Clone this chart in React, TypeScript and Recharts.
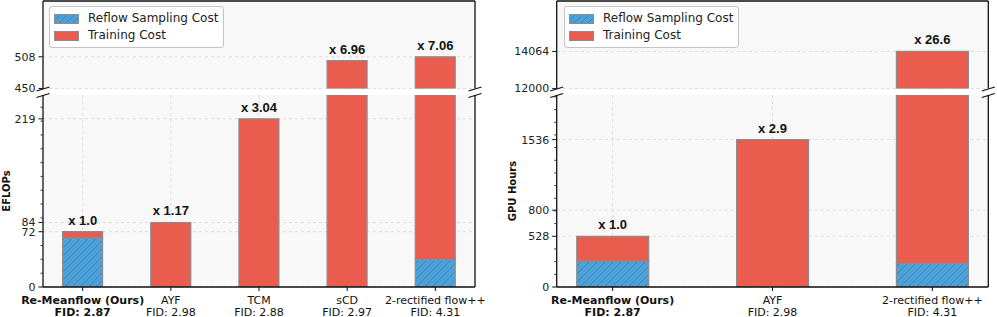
import React from 'react';
import { BarChart, Bar, XAxis, YAxis, CartesianGrid, ReferenceLine, ReferenceDot, Legend } from 'recharts';

// left panel: compute (EFLOPs)
const flopsMethods = ['Re-Meanflow (Ours)', 'AYF', 'TCM', 'sCD', '2-rectified flow++'];
const flopsFid = ['FID: 2.87', 'FID: 2.98', 'FID: 2.88', 'FID: 2.97', 'FID: 4.31'];
const flopsReflow = [64, 0, 0, 0, 36];
const flopsTraining = [8, 84, 219, 501, 472];
const flopsRatio = ['x 1.0', 'x 1.17', 'x 3.04', 'x 6.96', 'x 7.06'];
const flopsLowTicks = [0, 72, 84, 219];
const flopsLowMinor = [18, 36, 54, 90, 108, 126, 144, 162, 180, 198, 216, 234];
const flopsHighTicks = [450, 508];
const flopsLowDomain = [0, 250];
const flopsHighDomain = [450, 610];

// right panel: GPU hours
const gpuMethods = ['Re-Meanflow (Ours)', 'AYF', '2-rectified flow++'];
const gpuFid = ['FID: 2.87', 'FID: 2.98', 'FID: 4.31'];
const gpuReflow = [270, 0, 245];
const gpuTraining = [258, 1536, 13819];
const gpuRatio = ['x 1.0', 'x 2.9', 'x 26.6'];
const gpuLowTicks = [0, 528, 800, 1536];
const gpuLowMinor = [132, 264, 396, 660, 792, 924, 1056, 1188, 1320, 1452, 1584, 1716, 1848, 1980];
const gpuHighTicks = [12000, 14064];
const gpuLowDomain = [0, 2000];
const gpuHighDomain = [12000, 16877];

const RED = '#e95c4e';
const BLUE = '#48a2de';
const EDGE = '#8c8c8c';
const BG = '#f8f8f8';
const FONT = '"DejaVu Sans", sans-serif';

const YTick = (props: any) => {
  const { x, y, payload, majors } = props;
  const v = payload.value;
  const major = majors.includes(v);
  return (
    <g>
      <line x1={x} x2={x - (major ? 4.5 : 2.5)} y1={y} y2={y} stroke="#222" strokeWidth={major ? 1.1 : 0.9} />
      {major && (
        <text x={x - 7.5} y={y} dy="0.36em" textAnchor="end" fontFamily={FONT} fontSize={11} fill="#222">
          {v}
        </text>
      )}
    </g>
  );
};

const XTick = (props: any) => {
  const { x, y, payload, rows } = props;
  const d = rows[payload.value];
  if (!d) return null;
  const bold = payload.value === 0;
  return (
    <text textAnchor="middle" fontFamily={FONT} fontSize={11} fontWeight={bold ? 'bold' : 'normal'} fill="#111">
      <tspan x={x} y={y + 10.5}>{d.name}</tspan>
      <tspan x={x} y={y + 22.5}>{d.fid}</tspan>
    </text>
  );
};

const LegendBox = ({ id }: { id: string }) => (
  <div
    style={{
      background: '#fff',
      border: '1px solid #c4c4c4',
      borderRadius: 3,
      padding: '3px 5px 3px 4px',
      fontFamily: FONT,
      fontSize: 12,
      lineHeight: '17px',
      color: '#222',
      whiteSpace: 'nowrap',
    }}
  >
    <div style={{ display: 'flex', alignItems: 'center' }}>
      <svg width={25} height={10} style={{ display: 'block' }}>
        <defs>
          <pattern id={`lg-${id}`} patternUnits="userSpaceOnUse" width={7} height={7}>
            <rect width={7} height={7} fill={BLUE} />
            <path d="M-1,1 l2,-2 M0,7 l7,-7 M6,8 l2,-2" stroke="#5f7585" strokeWidth={0.8} />
          </pattern>
        </defs>
        <rect x={0.5} y={0.5} width={24} height={9} fill={`url(#lg-${id})`} stroke={EDGE} />
      </svg>
      <span style={{ marginLeft: 9 }}>Reflow Sampling Cost</span>
    </div>
    <div style={{ display: 'flex', alignItems: 'center' }}>
      <svg width={25} height={10} style={{ display: 'block' }}>
        <rect x={0.5} y={0.5} width={24} height={9} fill={RED} stroke={EDGE} />
      </svg>
      <span style={{ marginLeft: 9 }}>Training Cost</span>
    </div>
  </div>
);

type PanelProps = {
  id: string;
  left: number;
  yLabel: string;
  labelX: number;
  yw: number;
  mr: number;
  xDomain: number[];
  barSize: number;
  legendLeft: number;
  methods: string[];
  fid: string[];
  reflow: number[];
  training: number[];
  ratio: string[];
  lowTicks: number[];
  lowMinor: number[];
  highTicks: number[];
  lowDomain: number[];
  highDomain: number[];
};

const Panel = (p: PanelProps) => {
  const rows = p.methods.map((name, i) => ({
    x: i,
    name,
    fid: p.fid[i],
    reflow: p.reflow[i],
    training: p.training[i],
    ratio: p.ratio[i],
    total: p.reflow[i] + p.training[i],
  }));
  const xs = rows.map((r) => r.x);
  const W = 497;

  const bars = [
    <Bar key="r" dataKey="reflow" name="Reflow Sampling Cost" stackId="a" fill={`url(#hatch-${p.id})`} stroke={EDGE} strokeWidth={1.2} barSize={p.barSize} isAnimationActive={false} />,
    <Bar key="t" dataKey="training" name="Training Cost" stackId="a" fill={RED} stroke={EDGE} strokeWidth={1.2} barSize={p.barSize} isAnimationActive={false} />,
  ];

  // ratio above each bar top; dots outside the section's domain are discarded
  const ratioDots = rows.map((r) => (
    <ReferenceDot
      key={`dot-${r.x}`}
      x={r.x}
      y={r.total}
      r={0}
      fill="none"
      stroke="none"
      ifOverflow="discard"
      label={(lp: any) => {
        const vb = lp.viewBox || {};
        return (
          <text x={vb.x + (vb.width || 0) / 2} y={vb.y - 7} textAnchor="middle" fontFamily='"Liberation Sans", Arial, sans-serif' fontWeight="bold" fontSize={13} fill="#111">
            {r.ratio}
          </text>
        );
      }}
    />
  ));

  const defs = (
    <defs>
      <pattern id={`hatch-${p.id}`} patternUnits="userSpaceOnUse" width={8} height={8}>
        <rect width={8} height={8} fill={BLUE} />
        <path d="M-2,2 l4,-4 M0,8 l8,-8 M6,10 l4,-4" stroke="#607687" strokeWidth={0.8} />
      </pattern>
    </defs>
  );

  const lowAll = [...p.lowTicks, ...p.lowMinor].sort((a, b) => a - b);

  return (
    <>
      <div style={{ position: 'absolute', left: p.left, top: 0 }}>
        <BarChart width={W} height={95} data={rows} margin={{ top: 1, right: p.mr, bottom: 6.5, left: 0 }}>
          {defs}
          <CartesianGrid horizontalValues={p.highTicks} vertical={false} fill={BG} stroke="#dcdcdc" strokeDasharray="3 3" />
          <XAxis type="number" dataKey="x" domain={p.xDomain} allowDataOverflow hide />
          <YAxis
            type="number"
            domain={p.highDomain}
            allowDataOverflow
            ticks={p.highTicks}
            interval={0}
            width={p.yw}
            tickSize={0}
            tickMargin={0}
            tickLine={false}
            axisLine={{ stroke: '#111', strokeWidth: 1.3 }}
            tick={(tp: any) => <YTick {...tp} majors={p.highTicks} />}
          />
          {bars}
          {ratioDots}
          <ReferenceLine y={p.highDomain[1]} stroke="#111" strokeWidth={1.3} />
          <ReferenceLine x={p.xDomain[1]} stroke="#111" strokeWidth={1.3} />
          <Legend
            layout="vertical"
            align="center"
            verticalAlign="middle"
            wrapperStyle={{ left: p.legendLeft, top: 6, width: 'auto', height: 'auto' }}
            content={() => <LegendBox id={p.id} />}
          />
        </BarChart>
      </div>
      <div style={{ position: 'absolute', left: p.left, top: 95 }}>
        <BarChart width={W} height={222} data={rows} margin={{ top: 0, right: p.mr, bottom: 0, left: 0 }}>
          {defs}
          <CartesianGrid horizontalValues={p.lowTicks} verticalValues={xs} fill={BG} stroke="#dcdcdc" strokeDasharray="3 3" />
          <XAxis
            type="number"
            dataKey="x"
            domain={p.xDomain}
            allowDataOverflow
            ticks={xs}
            interval={0}
            height={30}
            tickSize={4}
            tickMargin={2}
            tickLine={{ stroke: '#111' }}
            axisLine={{ stroke: '#111', strokeWidth: 1.3 }}
            tick={(tp: any) => <XTick {...tp} rows={rows} />}
          />
          <YAxis
            type="number"
            domain={p.lowDomain}
            allowDataOverflow
            ticks={lowAll}
            interval={0}
            width={p.yw}
            tickSize={0}
            tickMargin={0}
            tickLine={false}
            axisLine={{ stroke: '#111', strokeWidth: 1.3 }}
            tick={(tp: any) => <YTick {...tp} majors={p.lowTicks} />}
            label={(lp: any) => {
              const vb = lp.viewBox || {};
              const cy = vb.y + vb.height / 2;
              return (
                <text transform={`translate(${p.labelX},${cy}) rotate(-90)`} textAnchor="middle" fontFamily={FONT} fontWeight="bold" fontSize={10} fill="#111">
                  {p.yLabel}
                </text>
              );
            }}
          />
          {bars}
          {ratioDots}
          <ReferenceLine x={p.xDomain[1]} stroke="#111" strokeWidth={1.3} />
        </BarChart>
      </div>
    </>
  );
};

const spines = [43, 475, 556.7, 988.3];

const App = () => (
  <div style={{ position: 'absolute', left: 0, top: 0, width: 997, height: 317, background: '#fff', overflow: 'hidden' }}>
    <Panel
      id="flops"
      left={0}
      yLabel="EFLOPs"
      labelX={9.5}
      yw={43}
      mr={22}
      xDomain={[-0.45, 4.45]}
      barSize={40}
      legendLeft={49}
      methods={flopsMethods}
      fid={flopsFid}
      reflow={flopsReflow}
      training={flopsTraining}
      ratio={flopsRatio}
      lowTicks={flopsLowTicks}
      lowMinor={flopsLowMinor}
      highTicks={flopsHighTicks}
      lowDomain={flopsLowDomain}
      highDomain={flopsHighDomain}
    />
    <Panel
      id="gpu"
      left={500}
      yLabel="GPU Hours"
      labelX={16}
      yw={56.7}
      mr={8.7}
      xDomain={[-0.35, 2.35]}
      barSize={72}
      legendLeft={64}
      methods={gpuMethods}
      fid={gpuFid}
      reflow={gpuReflow}
      training={gpuTraining}
      ratio={gpuRatio}
      lowTicks={gpuLowTicks}
      lowMinor={gpuLowMinor}
      highTicks={gpuHighTicks}
      lowDomain={gpuLowDomain}
      highDomain={gpuHighDomain}
    />
    {/* broken-axis marks */}
    <svg width={997} height={317} style={{ position: 'absolute', left: 0, top: 0, pointerEvents: 'none' }}>
      {spines.map((sx) =>
        [89, 95.5].map((yb) => (
          <line key={`${sx}-${yb}`} x1={sx - 6.5} y1={yb + 2} x2={sx + 6.5} y2={yb - 2} stroke="#111" strokeWidth={1.3} />
        ))
      )}
    </svg>
  </div>
);

export default App;
